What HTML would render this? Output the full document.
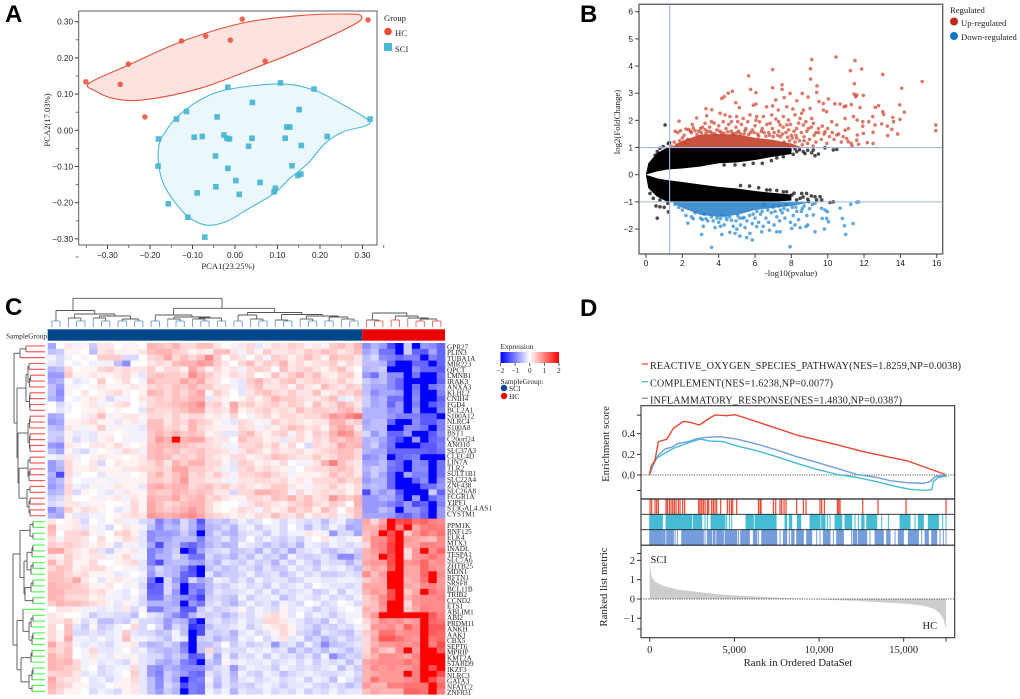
<!DOCTYPE html>
<html lang="en">
<head>
<meta charset="utf-8">
<title>PCA, volcano, heatmap and GSEA figure</title>
<style>
html,body{margin:0;padding:0;background:#fff;width:1020px;height:699px;overflow:hidden}
svg{display:block;filter:blur(0.35px)}
text{fill:#1f1f1f}
.serif{font-family:"Liberation Serif",serif}
.sans{font-family:"Liberation Sans",sans-serif}
.letter{font-family:"Liberation Sans",sans-serif;font-weight:700;font-size:24px;fill:#000}
</style>
</head>
<body>
<svg id="fig" xmlns="http://www.w3.org/2000/svg" width="1020" height="699" viewBox="0 0 1020 699">
<defs><linearGradient id="expr-grad" x1="0" x2="1" y1="0" y2="0"><stop offset="0" stop-color="#0000ff"/><stop offset="0.5" stop-color="#ffffff"/><stop offset="1" stop-color="#ff0000"/></linearGradient></defs>
<g id="panelA"><text class="letter" x="5" y="22">A</text></g>
<g id="panelB"><text class="letter" x="580" y="22">B</text></g>
<g id="panelC"><text class="letter" x="5" y="315">C</text></g>
<g id="panelD"><text class="letter" x="580" y="316">D</text></g>
</svg>
<script>
/* ---------- PCA data ---------- */
const pcaHC=[[-0.351,0.134],[-0.27,0.127],[-0.251,0.183],[-0.212,0.037],[-0.126,0.247],[-0.069,0.26],[-0.011,0.249],[0.017,0.307],[0.071,0.191],[0.313,0.305]];
const pcaSCI=[[-0.017,0.119],[0.107,0.131],[0.186,0.114],[0.041,0.077],[0.151,0.057],[-0.114,0.052],[-0.138,0.031],[-0.042,0.037],[0.318,0.031],[0.122,0.009],[0.129,0.009],[-0.18,-0.024],[-0.096,-0.019],[-0.077,-0.017],[-0.026,-0.013],[-0.019,-0.022],[-0.013,-0.024],[0.04,-0.022],[0.118,-0.022],[0.217,-0.017],[0.156,-0.042],[0.032,-0.044],[-0.046,-0.071],[0.134,-0.098],[-0.181,-0.099],[-0.017,-0.105],[0.155,-0.121],[0.148,-0.125],[0.002,-0.139],[0.059,-0.144],[-0.045,-0.156],[0.095,-0.16],[0.092,-0.17],[-0.089,-0.173],[0.01,-0.177],[-0.157,-0.203],[-0.111,-0.24],[-0.071,-0.295]];
const hullHC=[[-0.343,0.13],[-0.251,0.18],[-0.126,0.245],[0.017,0.296],[0.153,0.317],[0.271,0.321],[0.298,0.314],[0.278,0.291],[0.153,0.222],[0.071,0.183],[-0.082,0.116],[-0.216,0.084],[-0.286,0.088],[-0.329,0.109]];
const hullSCI=[[-0.016,0.113],[0.106,0.128],[0.186,0.111],[0.255,0.07],[0.314,0.028],[0.306,0.012],[0.255,-0.004],[0.212,-0.036],[0.172,-0.091],[0.129,-0.133],[0.092,-0.174],[0.027,-0.22],[-0.02,-0.252],[-0.067,-0.262],[-0.11,-0.239],[-0.145,-0.193],[-0.169,-0.146],[-0.18,-0.091],[-0.178,-0.036],[-0.161,0.001],[-0.137,0.036],[-0.082,0.084]];
const pcaMajorTicks=[-0.3,-0.2,-0.1,0,0.1,0.2,0.3];
const pcaMinorTicks=[-0.35,-0.25,-0.15,-0.05,0.05,0.15,0.25];
const pcaXMinorExtra=[-0.35,-0.25,-0.15,-0.05,0.05,0.15,0.25,0.35];

/* ---------- Volcano data ---------- */
const upPoints=[[10.46,4.33],[9.12,4.24],[11.5,4.2],[11.87,3.89],[11.25,3.83],[9.05,3.9],[6.97,3.87],[13.03,3.69],[5.65,3.64],[9.06,3.52],[11.47,3.35],[15.2,3.43],[9.41,3.27],[7.49,3.31],[5.76,3.14],[6.05,3.02],[7.49,3.14],[6.97,3.2],[14.07,3.18],[4.75,3.07],[4.53,3],[4.31,2.87],[4.17,2.81],[7.93,2.99],[8.6,2.99],[9.4,3.03],[8.92,2.86],[7.61,2.84],[7.14,2.75],[11.45,2.97],[11.6,2.93],[11.54,2.87],[11.96,2.92],[4.94,2.65],[5.91,2.56],[6.05,2.6],[3.3,2.43],[3.62,2.39],[5.14,2.47],[8.3,2.72],[9.52,2.69],[10.04,2.79],[9.76,2.62],[10.4,2.61],[10.68,2.6],[10.9,2.5],[11,2.53],[11.3,2.58],[11.78,2.47],[12.62,2.48],[12.8,2.54],[13.03,2.32],[13.08,2.22],[13.96,2.57],[14.22,2.3],[6.97,2.53],[6.64,2.5],[7.75,2.5],[8.08,2.42],[8.66,2.38],[9.03,2.44],[9.76,2.38],[8.57,2.26],[7.28,2.38],[6.92,2.2],[7.56,2.14],[7.84,2.01],[8.2,2.2],[8.48,2.07],[9.12,2.07],[9.94,2.32],[10.22,1.95],[10.5,1.83],[10.96,2.07],[11.42,2.14],[11.93,1.95],[12.48,2.14],[12.26,1.95],[11.62,2.01],[11.93,1.79],[12.6,1.83],[12.97,1.87],[13.58,2.11],[13.62,1.95],[13.98,2.04],[13.28,1.79],[13.53,1.67],[15.95,1.83],[15.95,1.62],[13.85,1.5],[13.3,1.44],[12.5,1.56],[11.96,1.52],[11.63,1.46],[11.6,1.27],[11.05,1.33],[11.14,1.21],[12.18,1.18],[12.5,1.15],[11.3,1.15],[11.34,1.05],[11.7,1.12],[10.96,1.64],[11.14,1.7],[10.5,1.46],[9.85,1.58],[9.7,1.79],[9.49,1.7],[9.21,1.89],[8.94,1.7],[8.66,1.83],[8.29,1.7],[7.75,1.83],[7.38,1.83],[6.83,1.89],[6.46,2.14],[6.09,2.14],[5.72,2.2],[5.35,2.07],[4.99,2.14],[4.62,2.14],[4.35,2.2],[4.08,2.26],[3.34,2.17],[2.79,2.09],[1.82,1.97],[3.25,1.89],[1.6,1.6],[1.75,1.55],[1.9,1.62],[2.1,1.45],[2.2,1.68],[2.35,1.66],[2.5,1.55],[2.6,1.72],[2.8,1.48],[2.9,1.6],[3,1.7],[3.1,1.75],[3.25,1.66],[3.4,1.6],[3.5,1.75],[3.65,1.52],[3.75,1.9],[3.9,1.65],[4,1.8],[4.15,1.55],[4.25,1.95],[4.4,1.7],[4.55,1.85],[4.7,1.6],[4.85,1.5],[4.95,1.75],[5.1,1.6],[5.25,1.85],[5.4,1.5],[5.5,1.7],[5.6,1.95],[5.75,1.55],[5.85,1.65],[6,1.8],[6.15,1.5],[6.25,1.95],[6.4,1.7],[6.5,1.55],[6.65,1.85],[6.8,1.45],[6.95,1.7],[7.05,1.55],[7.15,2.05],[7.3,1.6],[7.4,1.4],[7.55,1.75],[7.7,1.55],[7.85,1.65],[8,1.45],[8.15,1.6],[8.3,1.35],[8.4,1.9],[8.55,1.55],[8.7,1.4],[8.85,1.6],[9,1.3],[9.1,1.75],[9.25,1.45],[9.35,1.2],[9.5,1.55],[9.65,1.3],[9.8,1.5],[9.95,1.15],[10.1,1.4],[10.25,1.55],[10.35,1.3],[10.6,1.5],[10.75,1.2],[10.85,1.4],[8.9,1.15],[9.2,1.05],[8.6,1.1],[8.2,1.2],[7.9,1.25],[7.6,1.2],[1.4,1.05],[1.55,1.2],[1.7,1.1],[1.85,1.25],[2,1.35],[2.15,1.15],[2.3,1.3],[2.45,1.6],[2.7,1.62],[3.05,1.55],[3.3,1.52],[3.55,1.58],[3.8,1.5],[4.05,1.6],[4.3,1.52],[4.5,1.58],[4.75,1.5],[5,1.55],[5.2,1.5],[5.45,1.62],[5.65,1.48],[5.95,1.55],[6.2,1.42],[6.35,1.6],[6.6,1.42],[6.75,1.55],[7,1.4],[7.25,1.45],[7.5,1.5],[7.8,1.38],[8.05,1.35],[8.25,1.45],[8.45,1.25],[8.7,1.25],[2.55,1.85],[3.6,1.95],[4.7,1.95],[5.05,1.95],[6.05,2],[7.3,1.95],[7.95,1.85],[8.8,1.95],[9.35,1.55],[10,1.7]];
const downPoints=[[3.61,-2.67],[7.93,-2.65],[3.06,-2.2],[4.17,-2.2],[4.62,-2.12],[4.9,-2.16],[5.17,-2.26],[5.54,-2.31],[5.85,-2.4],[5.72,-2.16],[10.99,-2.2],[9.3,-2.1],[9.82,-2],[10.92,-1.88],[11.4,-1.8],[10.81,-1.61],[10.68,-1.23],[11.27,-1.09],[11.6,-1.01],[11.7,-1],[9.7,-1.61],[9.94,-1.61],[9.67,-1.24],[9.85,-1.3],[9.98,-1.36],[10.04,-1.73],[9.21,-1.48],[8.8,-1.91],[8.48,-1.95],[8.02,-1.98],[7.19,-2.1],[7.38,-2.1],[6.79,-2.04],[6.37,-2.1],[6.09,-1.91],[1.6,-1.1],[1.8,-1.2],[2,-1.3],[2.3,-1.78],[2.2,-1.5],[2.5,-1.55],[2.7,-1.4],[3,-1.6],[3.1,-1.65],[3.15,-1.9],[3.2,-1.45],[3.4,-1.7],[3.6,-1.55],[3.8,-1.95],[3.9,-1.6],[4,-1.75],[4.2,-1.5],[4.3,-1.85],[4.45,-1.65],[4.6,-1.55],[4.8,-1.9],[4.95,-1.7],[5.05,-1.5],[5.2,-1.85],[5.3,-1.6],[5.45,-1.95],[5.55,-1.7],[5.7,-1.5],[5.85,-1.8],[6,-1.6],[6.2,-1.75],[6.3,-1.45],[6.45,-1.9],[6.6,-1.6],[6.75,-1.75],[6.9,-1.4],[7.05,-1.85],[7.2,-1.55],[7.35,-1.7],[7.5,-1.4],[7.65,-1.6],[7.8,-1.3],[7.95,-1.75],[8.1,-1.5],[8.25,-1.2],[8.4,-1.65],[8.55,-1.35],[8.7,-1.15],[8.85,-1.5],[9,-1.25],[9.15,-1.1],[8.2,-1.85],[8.9,-1.85],[6.5,-1.1],[7,-1.2],[7.3,-1.15],[7.7,-1.1],[8.05,-1.2],[2.6,-1.62],[3.3,-1.62],[3.7,-1.7],[4.1,-1.62],[4.4,-1.55],[4.7,-1.68],[5.15,-1.6],[5.4,-1.58],[5.9,-1.45],[6.1,-1.35],[6.4,-1.35],[6.7,-1.3],[7.1,-1.35],[7.4,-1.3],[7.6,-1.25],[8.3,-1.35],[8.6,-1.25],[9.3,-1.05],[5,-2],[4.1,-1.9]];
const nsPoints=[[1.05,1.83],[0.95,1.03],[1.23,1.15],[1.3,1.18],[0.77,0.97],[0.62,0.85],[0.5,0.72],[0.22,0.35],[0.62,-1.6],[1.23,-1.37],[1,-1.2],[0.77,-1.18],[0.55,-1.15],[1.2,-1.05],[0.22,-0.69],[0.4,-0.87],[0.77,-0.93],[7.93,0.91],[8.3,0.85],[8.66,0.85],[9.21,0.91],[9.85,0.99],[10.31,0.91],[10.5,0.93],[9.49,0.76],[9.12,0.81],[7.56,0.66],[7.2,0.62],[6.9,0.52],[8.1,0.75],[8.9,0.9],[9.3,0.7],[7.74,-0.63],[8.02,-0.75],[8.57,-0.69],[8.84,-0.69],[9.3,-0.81],[9.58,-0.81],[9.67,-0.93],[10.13,-1.02],[10.31,-1],[9.39,-0.93],[8.48,-0.87],[6.83,-0.56],[7.56,-0.63],[6.64,-0.56],[8.29,-0.93],[8.9,-0.9],[9.1,-0.78],[8.2,0.95],[8.45,0.92],[8.75,0.78],[6.4,0.42],[5.9,0.42],[5.4,0.36],[4.9,0.36],[4.3,0.36],[6.2,-0.48],[5.7,-0.42],[5.2,-0.4],[7.2,-0.58],[8.15,-0.68],[8.65,-0.82],[8.95,-0.99]];
const nsX=[0,0.13,0.59,1.17,1.4,2,3,4,5,6,7,8];
const nsUpperOuter=[0.03,0.42,0.79,1,1,1,1,1,1,1,1,0.98];
const nsUpperInner=[0,0.03,0.12,0.19,0.2,0.23,0.3,0.42,0.45,0.54,0.66,0.76];
const nsLowerInner=[-0.01,-0.03,-0.13,-0.2,-0.22,-0.27,-0.36,-0.45,-0.51,-0.6,-0.67,-0.73];
const nsLowerOuter=[-0.04,-0.5,-0.8,-1,-1,-1,-1,-1,-1,-1,-1,-0.95];
const upCoreX=[1.5,2,3,4,5,6,7,8,8.5];
const upCoreTop=[1.05,1.25,1.48,1.5,1.48,1.36,1.28,1.15,1.03];
const downCoreX=[1.5,2,3,4,5,6,7,8,9];
const downCoreBottom=[-1.05,-1.22,-1.48,-1.55,-1.48,-1.3,-1.22,-1.15,-1.03];
const volcXTicks=[0,2,4,6,8,10,12,14,16];
const volcYTicks=[-2,-1,0,1,2,3,4,5,6];
const volcCutP=1.3;
const volcCutFC=[1,-1];

/* ---------- Heatmap data: expression z-score x10 ---------- */
const geneLabelsTop=["GPR27","PLIN3","TUBA1A","MIR223","QPCT","LMNB1","IRAK3","ANXA3","KLHL2","CNIH4","FGD4","BCL2A1","S100A12","NLRC4","S100A8","BST1","C20orf24","ANO10","SLC37A3","CLEC4D","LIN7A","TLR2","SULT1B1","SLC22A4","ZNF438","SLC26A8","FCGR1A","YIPF1","ST3GAL4.AS1","CYSTM1"];
const geneLabelsBottom=["PPM1K","RNF125","ELK4","MTX3","INADL","TESPA1","SLC7A6","ZHTB25","MDN1","RFTN1","SRSF8","BCL11B","TRIB2","CCND2","ETS1","ABLIM1","ABI2","PRDM11","ANKH","AAK1","CBX5","SEPT6","MPRIP","KMT2A","STARD9","IKZF3","NLRC3","GATA3","NFATC2","ZNF831"];
const groupSCICount=38;
const groupHCCount=10;
const heatValues=[
[-7,0,2,-1,1,-4,2,2,0,1,1,0,6,5,4,6,3,3,5,5,2,0,-1,2,3,-2,1,3,2,4,3,1,2,1,4,5,3,6,-9,-6,-8,-14,-20,-4,-20,-8,-9,-12],
[-5,-4,1,1,0,-5,2,3,1,1,1,2,5,6,6,4,3,1,2,1,5,5,2,-1,3,1,4,2,2,3,2,4,3,5,4,2,3,5,-7,-5,-11,-11,-20,-4,-12,-13,-7,-12],
[-1,-3,-1,0,1,0,4,4,4,-3,-3,0,3,4,7,3,5,3,5,9,4,0,3,2,0,3,-1,4,3,1,3,5,3,1,5,4,4,2,-5,-3,-9,-10,-12,-10,-10,-20,-10,-12],
[-2,-3,0,-1,0,-1,-1,-1,-5,-9,0,0,2,3,2,5,6,6,8,7,4,2,0,3,5,2,4,3,6,2,3,1,2,3,4,1,3,2,-5,-5,-6,-12,-20,-20,-12,-12,-20,-12],
[-6,-5,3,0,1,1,3,4,2,3,2,2,4,1,3,3,1,7,4,1,3,1,2,-1,3,4,3,0,5,2,3,4,2,1,3,5,2,0,-6,-5,-4,-20,-20,-20,-9,-12,-12,-13],
[-8,-8,4,1,1,2,1,1,2,3,1,-2,4,5,4,4,3,9,6,4,2,1,3,2,3,0,1,5,2,4,6,3,5,2,1,3,4,1,-8,-11,-5,-9,-9,-20,-11,-20,-20,-11],
[-7,-6,0,-2,-1,0,4,0,1,3,0,-1,6,4,4,4,7,5,7,3,2,0,-1,-2,4,6,3,2,4,5,2,3,4,3,2,4,2,1,-4,-6,-5,-9,-12,-20,-20,-20,-20,-12],
[-5,-8,1,-1,0,1,2,1,1,1,2,1,3,4,3,5,4,6,4,4,2,2,-1,-2,3,5,2,2,3,1,4,2,1,5,3,2,4,3,-5,-7,-7,-9,-12,-20,-11,-20,-11,-9],
[-5,-9,1,0,2,0,1,2,3,1,0,1,6,5,3,5,3,5,7,1,4,2,0,-2,2,4,5,3,2,4,2,2,5,1,2,4,3,5,-5,-9,-7,-7,-8,-20,-10,-20,-20,-10],
[-6,-8,0,-1,1,2,1,-3,-1,-1,0,2,3,4,3,5,4,6,6,-2,2,1,0,1,3,1,3,6,4,4,3,2,2,3,5,-2,-1,3,-4,-7,-6,-11,-11,-20,-9,-20,-20,-12],
[0,-3,-1,0,1,2,-1,1,2,3,0,1,3,4,4,5,6,7,9,3,4,1,7,3,4,2,3,4,2,4,3,1,5,2,3,6,4,2,-4,-7,-6,-12,-8,-20,-10,-20,-13,-11],
[0,-2,-1,0,1,1,2,0,1,0,0,-2,4,3,3,4,5,7,7,2,3,2,6,1,2,3,4,2,3,2,5,3,4,4,3,5,6,3,-6,-6,-6,-9,-8,-20,-8,-20,-20,-10],
[-7,-6,0,0,-1,2,5,-1,1,2,2,1,3,3,2,4,2,3,3,1,2,1,3,0,-1,2,3,1,3,3,2,3,3,5,8,7,9,11,-6,-6,-6,-8,-10,-10,-10,-13,-13,-20],
[-8,-7,1,1,2,3,1,1,-2,1,2,-1,5,5,2,4,3,6,4,3,1,-1,-2,3,2,1,-1,4,2,3,2,1,2,2,6,6,3,4,-7,-5,-5,-12,-20,-20,-9,-13,-13,-10],
[-5,-6,2,1,-1,1,4,-1,1,-1,-1,-2,5,5,3,4,2,6,3,2,1,1,1,3,2,-1,2,1,3,5,4,2,3,1,5,7,6,2,-6,-5,-5,-20,-20,-9,-9,-11,-20,-10],
[-4,-4,1,-2,-1,-2,1,1,0,1,-1,-1,4,6,4,6,4,5,4,1,2,-2,-2,4,5,2,1,3,4,-1,3,1,4,3,6,9,8,4,-3,-8,-5,-12,-12,-8,-20,-20,-13,-9],
[-4,-5,1,-3,-1,-2,1,2,0,-1,-1,-1,4,8,6,20,6,7,7,3,2,2,0,5,3,3,1,2,-2,2,3,1,3,2,5,4,6,5,-6,-5,-7,-11,-14,-20,-8,-20,-12,-11],
[-8,-9,2,1,0,2,2,1,3,1,0,1,5,6,5,6,5,4,3,3,2,-1,-1,3,3,4,2,4,1,3,0,-3,3,2,3,7,5,6,-6,-4,-8,-11,-20,-20,-20,-13,-13,-10],
[-5,-7,1,-2,-3,-1,0,1,-1,3,2,-1,5,6,4,5,3,4,5,3,3,2,-1,2,4,3,1,3,2,2,3,1,2,3,4,5,5,3,-6,-7,-7,-12,-12,-12,-12,-12,-13,-11],
[-1,-2,2,-1,0,1,2,1,1,0,1,2,5,6,5,3,4,3,5,3,2,1,3,3,1,2,3,5,4,3,2,2,4,2,3,5,5,3,-9,-8,-6,-20,-12,-11,-10,-20,-20,-20],
[-8,-5,3,1,0,2,-3,0,2,1,1,2,3,5,2,6,4,6,6,3,3,1,-2,4,3,1,2,1,3,0,-1,-1,2,6,10,5,3,2,-7,-7,-5,-10,-12,-20,-9,-10,-20,-11],
[-8,-6,3,1,1,2,1,1,1,2,2,3,3,4,3,7,7,4,4,3,2,-1,-2,3,4,2,3,2,1,-1,0,2,3,3,4,5,4,2,-6,-4,-5,-11,-12,-20,-9,-9,-20,-11],
[-6,-14,3,-1,0,0,-2,1,1,-1,0,1,4,6,3,5,7,3,4,2,4,2,-1,3,3,4,5,3,2,-1,1,1,1,2,5,3,4,2,-7,-4,-7,-12,-20,-7,-10,-10,-20,-11],
[-7,-5,2,0,-1,-1,1,-1,-1,1,1,1,4,4,3,5,8,3,3,2,2,-1,-1,2,2,3,3,2,3,1,2,1,3,3,3,5,3,4,-8,-6,-6,-12,-20,-20,-12,-9,-20,-9],
[-8,-6,3,-1,-2,1,-1,1,2,1,1,-2,6,7,5,6,6,3,4,5,3,4,2,3,2,1,2,4,4,2,1,-1,2,2,4,2,1,3,-6,-5,-6,-12,-20,-20,-20,-12,-11,-8],
[-6,-5,3,-3,1,0,-1,-2,-1,2,1,1,5,4,4,6,5,4,5,4,2,2,-3,3,3,6,6,5,4,-1,3,1,2,3,2,3,1,3,-14,-6,-8,-6,-13,-20,-20,-20,-4,-12],
[-4,-3,2,0,0,1,-1,1,2,-1,2,1,6,5,5,7,4,5,6,3,4,2,1,1,3,3,2,5,4,6,3,5,2,3,8,5,4,6,-8,-8,-6,-7,-11,-20,-8,-20,-12,-9],
[-3,-2,2,2,-1,1,1,0,0,1,3,1,7,5,3,4,5,6,6,3,1,0,0,-1,2,4,3,2,1,3,4,5,3,2,4,3,0,6,-8,-8,-8,-10,-12,-8,-14,-12,-20,-10],
[-9,-6,4,1,3,2,1,0,-2,-1,3,1,7,5,4,5,6,8,6,3,1,0,1,3,2,-1,3,1,2,5,3,4,1,5,3,0,3,5,-8,-8,-5,-7,-20,-8,-8,-11,-20,-8],
[-6,-7,1,-2,-2,-1,-1,0,1,2,3,2,8,7,6,7,8,9,7,4,3,2,1,2,1,3,2,5,3,2,4,1,3,2,3,-1,2,5,-7,-7,-7,-8,-11,-12,-9,-12,-20,-8],
[2,0,1,2,-3,0,-1,0,2,-1,-1,-3,-4,-10,-6,-8,-3,-6,-13,-5,-4,-5,-3,-1,-3,-2,0,-1,-3,-1,-2,-3,-2,-5,-2,-1,-5,-6,7,3,7,20,14,15,11,12,10,9],
[6,1,1,2,-2,1,-1,-3,0,2,1,-1,-5,-9,-5,-6,-3,-6,-11,-6,-5,-3,-6,-2,-1,-4,-2,-1,-3,0,-2,-5,-2,-4,-1,-3,-7,-6,6,6,9,20,10,20,7,10,11,10],
[5,0,3,3,4,1,-1,0,3,4,1,-2,-9,-8,-8,-7,-4,-7,-20,-6,-3,-5,-6,-3,-2,-2,-4,-1,-3,-1,-1,2,1,-1,-8,-3,-3,-7,5,7,20,14,20,4,8,11,9,11],
[3,-1,3,3,2,0,3,0,1,3,2,-2,-9,-7,-7,-5,-5,-5,-10,-5,-4,-2,-5,-3,0,-3,-1,-3,-4,-2,-4,-1,0,2,-1,-2,-1,1,5,9,9,14,20,8,7,6,5,9],
[4,3,4,3,2,1,2,1,-3,-1,-1,-2,-7,-14,-6,-5,-10,-12,-9,-6,-4,-6,-5,-1,-2,-3,-5,-3,-5,-3,-6,-1,-2,-3,-1,-2,-3,-2,3,9,10,15,20,7,7,10,10,9],
[7,7,3,2,1,3,-2,-4,-1,1,2,-1,-10,-8,-6,-4,-20,-14,-7,-4,-3,-2,-5,-4,-3,-6,-2,-5,-3,-7,-3,-2,-1,-4,-5,-3,-2,-4,6,8,10,15,20,3,8,20,9,12],
[2,1,4,2,1,2,2,-1,1,3,-1,-1,-10,-6,-6,-3,-6,-11,-11,-3,-5,-4,-6,-3,-5,-2,-4,-3,-6,-1,-3,-4,-3,-2,-4,-9,-9,-5,6,7,20,14,20,3,8,9,11,9],
[6,2,4,1,1,3,0,0,1,2,3,-2,-10,-14,-6,-5,-5,-7,-8,-4,-6,-2,-3,-4,-2,-4,-3,-6,-2,-4,-1,-3,-5,-2,-3,-3,-6,-3,7,8,8,14,20,8,9,12,8,9],
[3,5,4,1,2,3,3,1,0,1,-1,-2,-7,-3,-5,-6,-9,-14,-20,-5,-3,-5,-4,-2,-3,-5,-2,-4,-4,-1,-3,-2,-4,-1,-2,-1,-3,-5,5,7,6,13,20,7,7,12,9,8],
[5,5,3,2,3,1,1,1,-2,-1,0,-1,-8,-4,-5,-6,-12,-13,-20,-2,-6,-4,-4,-3,-1,-4,-3,-2,-5,-3,-1,-3,-2,-4,-4,-3,-2,-3,9,5,8,20,20,7,7,12,20,9],
[5,5,4,7,2,0,-2,1,2,1,-1,-2,-11,-20,-3,-8,-12,-3,-7,-5,-1,-2,-4,-2,-4,-1,-3,-2,-2,-4,-3,-1,-1,-2,-2,-1,-1,-2,4,6,7,20,20,6,7,11,20,8],
[6,5,5,4,3,1,1,2,0,-1,1,-3,-13,-12,-3,-6,-20,-10,-9,-5,-3,-4,-2,-1,-3,-2,-4,-1,-3,-2,-1,-3,0,-1,-2,-2,-3,-2,7,7,7,20,20,7,6,9,10,8],
[6,6,4,4,4,2,3,1,-1,-2,0,-2,-12,-12,-3,-8,-20,-9,-12,-5,-2,-3,-3,-2,-1,-3,-1,-4,-2,-3,-2,-1,-4,-3,-1,-4,-1,-2,6,8,7,14,20,4,7,20,11,9],
[6,5,3,3,3,1,2,-1,-1,-2,1,-3,-11,-11,-5,-7,-9,-11,-15,-4,-3,-4,-5,-1,-4,-2,-2,-1,-5,-3,-1,-2,-3,-1,-3,-2,-3,-1,4,6,9,14,20,6,8,9,9,10],
[4,6,5,5,4,3,2,1,-2,1,-1,-3,-6,-6,-6,-7,-20,-8,-11,-3,-2,-4,-6,-3,-1,-3,-2,-4,-1,-2,-3,0,-1,-3,-2,0,-1,-3,4,5,9,20,20,3,8,9,9,9],
[0,2,2,1,-1,-1,-2,-1,-2,2,-3,1,-10,-10,-6,-5,-13,-13,-4,-2,-4,-3,-2,1,-3,-1,-2,-3,1,-2,-1,-2,-4,-2,-3,-1,0,-1,6,5,8,20,20,4,7,10,9,9],
[2,1,0,0,-1,-4,-2,-2,-3,-3,-5,0,-2,-3,-6,-9,-12,-6,-3,-4,-3,-6,-4,-2,-3,-1,2,3,1,-2,0,-3,-1,-2,-4,-2,-1,-1,5,8,20,20,20,20,20,20,13,10],
[2,2,4,1,-3,-1,-5,-5,-3,-4,-1,-3,-3,-4,-8,-5,-6,-13,-20,-3,-2,-4,-3,-1,-3,-2,3,3,2,-1,-2,-4,-3,-5,-1,-3,-1,0,3,6,9,8,9,7,8,20,12,11],
[3,0,5,-2,-4,1,-4,-3,-1,0,3,-3,0,-3,-8,-3,-5,-16,-14,-5,-3,-3,-2,-1,-4,-2,1,2,3,1,-2,-3,-5,-3,-4,-2,-3,-1,2,8,8,9,7,12,9,20,13,13],
[3,1,5,-3,-3,-2,-3,-2,-1,4,-2,-3,-3,-5,-4,-1,-5,-20,-14,-3,-4,-3,-6,-2,-1,-3,-2,1,3,1,-3,-4,-6,-2,-3,-4,-5,-2,4,6,11,11,8,9,9,20,13,12],
[3,1,7,-1,-1,-2,1,-2,-1,5,-1,-1,-2,-3,-5,-1,-2,-20,-4,-3,-6,-4,-5,-1,-2,0,-3,-1,2,-2,-1,-5,-3,-6,-4,-2,-4,-3,3,7,13,13,11,9,8,20,11,12],
[7,3,4,-1,-2,-1,-2,-3,-1,1,2,-4,-6,-5,-3,-5,-10,-20,-5,-5,-3,0,-4,-2,-4,-3,-2,-8,-3,-2,-5,-1,-4,-9,-5,-4,-3,-2,3,6,8,8,9,8,9,20,10,14],
[4,3,5,0,-1,3,-2,-2,-1,0,-2,-1,-4,-5,-6,-5,-9,-20,-5,3,-4,-2,-3,-3,-1,-2,-1,-3,-2,-6,-3,-5,-3,-5,-2,-3,-5,-3,3,8,5,4,9,20,8,20,20,13],
[6,4,5,0,-1,2,-1,-2,1,-1,1,-2,-3,-3,-6,-4,-6,-13,-12,-2,-7,-1,-5,-2,-3,-1,-4,-1,-3,-2,-4,-2,-5,-1,-9,-5,-3,-4,4,6,9,9,8,7,10,20,20,20],
[6,5,6,3,-1,1,-2,-1,-2,-3,1,-2,-3,-6,-7,-5,-10,-12,-20,-4,-6,1,-2,-1,-2,-2,-1,-3,-2,-1,-3,-1,-4,-2,-3,-2,-5,-2,7,8,9,9,9,11,9,20,20,20],
[6,5,4,3,-1,0,-3,-2,-1,-1,3,-2,-8,-9,-6,-7,-9,-9,-9,-5,-3,-2,-8,-3,-1,-2,-2,-4,-1,-2,-3,-2,-3,-2,-1,-5,-2,-4,6,9,8,9,8,8,10,20,14,20],
[3,4,4,2,-2,-1,-3,-2,-1,0,4,-2,-8,-10,-4,-6,-8,-11,-12,-2,-4,-2,-6,-1,-3,-4,-1,-2,-5,-3,-2,-1,-2,-3,-3,-2,-1,-3,6,7,8,8,8,20,10,20,20,14],
[7,3,2,2,0,-2,-1,-3,-1,1,3,-2,-5,-9,-4,-7,-20,-11,-10,-1,-5,-2,-5,-2,-1,-3,-2,-1,-3,-2,-1,-4,-1,-2,-5,0,-2,-4,6,11,8,8,8,9,10,20,14,10],
[6,4,3,1,1,-2,-2,0,1,1,2,-2,-5,-9,-3,-5,-14,-10,-11,-2,-6,-2,-4,-3,-4,-2,-1,-2,-4,-2,-2,-1,-3,-4,-2,-3,-5,-3,8,6,6,10,10,11,11,11,20,12],
[5,3,1,1,0,-3,-1,-2,-3,1,2,-2,-5,-8,-4,-6,-20,-10,-11,-1,-3,-1,-6,-2,-3,-3,-1,-3,-2,-3,-1,-4,-2,-3,-1,-3,-2,-2,5,7,6,6,6,12,12,11,20,10]
];
const colTreeSCIa=[16.5,[6,0,0],[13,[9,0,[6,0,0]],[11,[9,0,[6,0,0]],[8,[6,0,0],[6,0,0]]]]];
const colTreeSCIb=[18.7,[12,[6,0,0],[10,[8,0,[6,0,0]],[9,[8,0,[6,0,0]],[6,0,0]]]],[14.5,[12,[6,0,0],[8,0,[6,0,0]]],[12.5,[7,0,[6,0,0]],[11,[8,0,[6,0,0]],[10,[6,0,0],[8,0,[6,0,0]]]]]]];
const colTreeHC=[14,[7,0,[6,0,0]],[11,[7,0,0],[9,0,[8,[6,0,0],[6,0,0]]]]];
const rowTreeTop=[31,[25,[19,0,0],0],[28,[19,[17,[16,0,0],[15.5,[14.5,0,0],0]],[15.5,[15,0,0],[15,0,0]]],[27,[17,[15.5,[15,0,0],0],[15.5,[15,0,0],[15,0,0]]],[26,[17,[15,0,0],[16,[15,0,0],0]],[18,[15,0,0],[16,[15,0,0],[15,0,0]]]]]]];
const rowTreeBottom=[32,[25,[15,[12,0,0],[12,0,0]],[21,[18,[13,[12,0,0],0],[14,[12,0,0],0]],[20,[14,[12,0,0],0],[12,0,0]]]],[28,[22,0,[16,[14,[12,0,0],0],[13,[12,0,0],0]]],[24,[14,[13,0,0],0],[16,[13,[12,0,0],0],[13,0,0]]]]];
const exprTicks=[-2,-1,0,1,2];

/* ---------- GSEA data ---------- */
const rosRank=[0,79,315,512,1004,1398,1988,2382,2933,3464,3858,4547,5039,5728,6319,7500,8681,9862,11142,12618,14193,15177,16161,17441];
const rosES=[0.006,0.081,0.145,0.323,0.345,0.452,0.519,0.51,0.484,0.542,0.581,0.574,0.584,0.548,0.516,0.452,0.387,0.339,0.29,0.226,0.171,0.139,0.081,0.006];
const compRank=[0,217,413,768,1398,2185,2972,3563,4350,5138,6319,7500,8681,9862,11043,12225,13406,14587,15374,16161,16653,16752,17047,17539];
const compES=[0.006,0.097,0.161,0.2,0.258,0.306,0.348,0.329,0.323,0.281,0.235,0.177,0.113,0.055,0.006,-0.023,-0.065,-0.113,-0.139,-0.148,-0.142,-0.065,-0.023,-0.01];
const inflRank=[0,217,512,906,1299,1693,2283,2776,3366,4154,5138,6319,7500,8681,9862,11043,12225,13406,14193,15177,16161,16555,16850,17539];
const inflES=[0.006,0.113,0.194,0.252,0.268,0.306,0.323,0.352,0.365,0.371,0.348,0.3,0.242,0.177,0.123,0.065,0.006,-0.023,-0.055,-0.074,-0.081,-0.065,-0.016,0];
const rosHits=[20,118,315,413,512,965,1043,1161,1260,1358,1457,1555,1693,1791,1949,2067,2894,2972,3071,3169,3268,3405,3484,3661,3760,3858,3957,4193,4587,4705,4823,4902,5138,6417,6516,6575,7303,7441,7697,7795,7933,8051,8681,9075,9232,10059,10157,10315,11083,11161,11240,12579,13484,15138,17500];
const compHitRuns=[[0,315],[354,748],[965,2480],[2579,3071],[3268,3268],[3405,3405],[3622,4449],[4547,4547],[4705,4705],[4843,4843],[5689,6122],[6220,6516],[6555,7461],[7992,8091],[8248,8386],[8720,8917],[9469,10059],[10157,10354],[10492,10492],[10650,10650],[10945,11339],[11535,11929],[12126,12126],[12323,12323],[12520,12658],[12815,13406],[13701,13701],[14095,14095],[14784,15374],[15669,15669],[15866,16161],[16457,17047],[17303,17303],[17500,17500]];
const inflHitRuns=[[0,709],[768,906],[1004,1398],[1496,1496],[1634,1634],[1890,3169],[3268,3268],[3405,3661],[3760,3858],[3957,4350],[4449,5138],[5236,5236],[5374,5886],[6122,6319],[6417,6417],[6614,7500],[7697,7697],[7894,8091],[8248,8248],[8386,8523],[8681,9075],[9272,9567],[9862,9862],[10059,10059],[10256,10650],[10846,10846],[11043,11437],[11929,11929],[12027,12225],[12323,12815],[13012,13012],[13307,13799],[13996,14193],[14488,14488],[14685,14980],[15275,15866],[16063,16063],[16260,16457],[16653,16949],[17146,17146],[17342,17342],[17500,17500]];
const metricRank=[0,39,118,315,807,1594,2776,4350,6319,7500,9272,12225,14193,15177,16161,16752,17146,17342,17500];
const metricValue=[2.35,1.6,1.15,0.9,0.68,0.5,0.37,0.22,0.12,0.07,0,-0.1,-0.2,-0.25,-0.35,-0.5,-0.75,-1.05,-1.55];
const rankTicks=[0,5000,10000,15000];
const rankTickLabels=["0","5,000","10,000","15,000"];
const rankEndTick=[17500];
const esTicks=[0,0.2,0.4];
const esTickLabels=["0.0","0.2","0.4"];
const esExtraTicks=[0.58,-0.15];
const metricTicks=[-1,0,1,2];
const metricExtraTicks=[2.35,-1.55];

/* ---------- helpers ---------- */
const NS='http://www.w3.org/2000/svg';
function mk(parent,tag,attrs,name,text){
  const el=document.createElementNS(NS,tag);
  for(const k in attrs){el.setAttribute(k,attrs[k]);}
  
  
  if(text!==undefined){el.textContent=text;}
  parent.appendChild(el);
  return el;
}
function line(p,x1,y1,x2,y2,stroke,w,name,extra){
  return mk(p,'line',Object.assign({x1:x1,y1:y1,x2:x2,y2:y2,stroke:stroke,'stroke-width':w},extra||{}),name);
}
function text(p,x,y,str,size,cls,name,extra){
  return mk(p,'text',Object.assign({x:x,y:y,'font-size':size,class:cls},extra||{}),name,str);
}
function closedSpline(pts){
  const n=pts.length;let d='M'+pts[0][0]+' '+pts[0][1];
  for(let i=0;i<n;i++){
    const p0=pts[(i-1+n)%n],p1=pts[i],p2=pts[(i+1)%n],p3=pts[(i+2)%n];
    const c1=[p1[0]+(p2[0]-p0[0])/6,p1[1]+(p2[1]-p0[1])/6];
    const c2=[p2[0]-(p3[0]-p1[0])/6,p2[1]-(p3[1]-p1[1])/6];
    d+=' C'+c1[0]+' '+c1[1]+' '+c2[0]+' '+c2[1]+' '+p2[0]+' '+p2[1];
  }
  return d+'Z';
}
function rowsPath(xs,ys,fx,fy){return xs.map((x,i)=>fx(x)+','+fy(ys[i])).join(' ');}

/* ---------- Panel A ---------- */
(function(){
  const g=document.getElementById('panelA');
  const X=v=>235+v*425, Y=v=>130.3-v*362;
  const L=78.7,R=377,T=11,B=245;
  mk(g,'rect',{x:L,y:T,width:R-L,height:B-T,fill:'none',stroke:'#5f5f5f','stroke-width':1},'pca-plot-frame');
  const fmt=v=>(v<0?'\u2212':'')+Math.abs(v).toFixed(2);
  pcaMajorTicks.forEach(v=>{
    line(g,X(v),B,X(v),B+4,'#444',1,'pca-x-tick');
    text(g,X(v),258,fmt(v),8.2,'sans','pca-x-tick-label',{'text-anchor':'middle'});
    line(g,L-4,Y(v),L,Y(v),'#444',1,'pca-y-tick');
    text(g,73,Y(v)+3,fmt(v),8.2,'sans','pca-y-tick-label',{'text-anchor':'end'});
  });
  pcaXMinorExtra.forEach(v=>{line(g,X(v),B,X(v),B+3,'#555',0.8,'pca-x-minor-tick');});
  pcaMinorTicks.forEach(v=>{line(g,L-3,Y(v),L,Y(v),'#555',0.8,'pca-y-minor-tick');});
  text(g,228,269,'PCA1(23.25%)',8.6,'serif','pca-x-axis-title',{'text-anchor':'middle'});
  text(g,0,0,'PCA2(17.03%)',8.6,'serif','pca-y-axis-title',{'text-anchor':'middle',transform:'translate(50,120) rotate(-90)'});
  mk(g,'path',{d:closedSpline(hullHC.map(p=>[X(p[0]),Y(p[1])])),fill:'#ea4f36','fill-opacity':0.16,stroke:'#e8503a','stroke-width':1.1},'hc-confidence-region');
  mk(g,'path',{d:closedSpline(hullSCI.map(p=>[X(p[0]),Y(p[1])])),fill:'#4bb9d5','fill-opacity':0.11,stroke:'#4bb9d5','stroke-width':1.1},'sci-confidence-region');
  pcaHC.forEach(p=>{mk(g,'circle',{cx:X(p[0]),cy:Y(p[1]),r:2.8,fill:'#ea4f36','fill-opacity':0.85},'hc-point');});
  pcaSCI.forEach(p=>{mk(g,'rect',{x:X(p[0])-2.8,y:Y(p[1])-2.8,width:5.6,height:5.6,fill:'#45b5d2','fill-opacity':0.92},'sci-point');});
  text(g,384,21,'Group',8.6,'serif','pca-legend-title');
  mk(g,'circle',{cx:388,cy:31.5,r:3.8,fill:'#ea4f36'},'hc-legend-marker');
  text(g,395,36,'HC',8.6,'serif','hc-legend-label');
  mk(g,'rect',{x:384,y:43,width:8,height:8,fill:'#4bb9d5'},'sci-legend-marker');
  text(g,395,52,'SCI',8.6,'serif','sci-legend-label');
})();

/* ---------- Panel B ---------- */
(function(){
  const g=document.getElementById('panelB');
  const X=v=>646+v*18.17, Y=v=>174.7-v*27.17;
  const L=639,R=942.7,T=4.3,B=254;
  mk(g,'polygon',{points:upCoreX.map(x=>X(x)+','+Y(1)).join(' ')+' '+upCoreX.slice().reverse().map((x,i)=>X(x)+','+Y(upCoreTop[upCoreX.length-1-i])).join(' '),fill:'#c0341d','fill-opacity':0.85},'up-regulated-dense-cloud');
  mk(g,'polygon',{points:downCoreX.map(x=>X(x)+','+Y(-1)).join(' ')+' '+downCoreX.slice().reverse().map((x,i)=>X(x)+','+Y(downCoreBottom[downCoreX.length-1-i])).join(' '),fill:'#1878c4','fill-opacity':0.82},'down-regulated-dense-cloud');
  upPoints.forEach(p=>{mk(g,'circle',{cx:X(p[0]),cy:Y(p[1]),r:1.8,fill:'#cc3a24','fill-opacity':0.68},'up-regulated-point');});
  downPoints.forEach(p=>{mk(g,'circle',{cx:X(p[0]),cy:Y(p[1]),r:1.8,fill:'#1a80cb','fill-opacity':0.68},'down-regulated-point');});
  nsPoints.forEach(p=>{mk(g,'circle',{cx:X(p[0]),cy:Y(p[1]),r:1.8,fill:'#1c1c1c','fill-opacity':0.8},'not-significant-point');});
  mk(g,'polygon',{points:rowsPath(nsX,nsUpperOuter,X,Y)+' '+nsX.slice().reverse().map((x,i)=>X(x)+','+Y(nsUpperInner[nsX.length-1-i])).join(' '),fill:'#000'},'not-significant-upper-band');
  mk(g,'polygon',{points:rowsPath(nsX,nsLowerOuter,X,Y)+' '+nsX.slice().reverse().map((x,i)=>X(x)+','+Y(nsLowerInner[nsX.length-1-i])).join(' '),fill:'#000'},'not-significant-lower-band');
  volcCutFC.forEach(v=>{line(g,L,Y(v),R,Y(v),'#9bb9e0',1.1,'fold-change-threshold-line');});
  line(g,X(volcCutP),T,X(volcCutP),B,'#9bb9e0',1.1,'pvalue-threshold-line');
  mk(g,'rect',{x:L,y:T,width:R-L,height:B-T,fill:'none',stroke:'#666','stroke-width':1.4},'volcano-plot-frame');
  volcXTicks.forEach(v=>{
    line(g,X(v),B,X(v),B+4,'#444',1,'volcano-x-tick');
    text(g,X(v),266,String(v),8.4,'sans','volcano-x-tick-label',{'text-anchor':'middle'});
  });
  volcYTicks.forEach(v=>{
    line(g,L-4,Y(v),L,Y(v),'#444',1,'volcano-y-tick');
    text(g,633,Y(v)+3,(v<0?'\u2212':'')+Math.abs(v),8.4,'sans','volcano-y-tick-label',{'text-anchor':'end'});
  });
  text(g,791,276,'-log10(pvalue)',8.8,'serif','volcano-x-axis-title',{'text-anchor':'middle'});
  text(g,0,0,'log2(FoldChange)',8.8,'serif','volcano-y-axis-title',{'text-anchor':'middle',transform:'translate(620,122) rotate(-90)'});
  text(g,950,13,'Regulated',8.6,'serif','volcano-legend-title');
  mk(g,'circle',{cx:954,cy:21.5,r:4,fill:'#c0281a'},'up-regulated-legend-marker');
  text(g,961,26,'Up-regulated',8.6,'serif','up-regulated-legend-label');
  mk(g,'circle',{cx:954,cy:36,r:4,fill:'#1274c4'},'down-regulated-legend-marker');
  text(g,961,40,'Down-regulated',8.6,'serif','down-regulated-legend-label');
})();

/* ---------- Panel C ---------- */
(function(){
  const g=document.getElementById('panelC');
  const X0=47.7,CW=8.277,Y0=343,RH=5.855;
  const cellColor=v=>{
    const t=Math.max(-1,Math.min(1,v/20));
    const c=Math.round(255*(1-Math.abs(t)));
    return t>=0?'rgb(255,'+c+','+c+')':'rgb('+c+','+c+',255)';
  };
  heatValues.forEach((row,r)=>{
    row.forEach((v,c)=>{
      mk(g,'rect',{x:X0+c*CW,y:Y0+r*RH,width:CW+0.3,height:RH+0.3,fill:cellColor(v)},'heatmap-cell');
    });
  });
  mk(g,'rect',{x:X0,y:329.3,width:groupSCICount*CW,height:11.4,fill:'#00468b'},'sci-annotation-bar');
  mk(g,'rect',{x:X0+groupSCICount*CW,y:329.3,width:groupHCCount*CW,height:11.4,fill:'#ee0000'},'hc-annotation-bar');
  text(g,6,338.5,'SampleGroup',7.4,'serif','annotation-row-label');
  geneLabelsTop.forEach((t,i)=>{text(g,447,349.3+i*5.76,t,7.2,'serif','gene-label');});
  geneLabelsBottom.forEach((t,i)=>{text(g,447,528+i*5.76,t,7.2,'serif','gene-label');});

  function colDendro(tree,startIdx,leafColor,base){
    let idx=startIdx;
    (function walk(n){
      if(n===0){const x=X0+(idx+0.5)*CW;idx++;return {x:x,h:0,leaf:true};}
      const a=walk(n[1]),b=walk(n[2]);
      const y=base-n[0];
      const both=a.leaf&&b.leaf;
      line(g,a.x,base-a.h,a.x,y,a.leaf?leafColor:'#555',0.9,'column-dendrogram-branch');
      line(g,b.x,base-b.h,b.x,y,b.leaf?leafColor:'#555',0.9,'column-dendrogram-branch');
      line(g,a.x,y,b.x,y,both?leafColor:'#555',0.9,'column-dendrogram-branch');
      return {x:(a.x+b.x)/2,h:n[0],leaf:false};
    })(tree);
    return idx;
  }
  let next=colDendro(colTreeSCIa,0,'#6f9fd0',327);
  next=colDendro(colTreeSCIb,next,'#6f9fd0',327);
  colDendro(colTreeHC,next,'#f06060',327);
  line(g,73,298.3,222,298.3,'#555',0.9,'column-dendrogram-root');
  line(g,73,298.3,73,310.5,'#555',0.9,'column-dendrogram-root');
  line(g,222,298.3,222,308.3,'#555',0.9,'column-dendrogram-root');

  function rowDendro(tree,startRow,leafColor,base){
    let idx=startRow;
    (function walk(n){
      if(n===0){const y=Y0+(idx+0.5)*RH;idx++;return {y:y,h:0,leaf:true};}
      const a=walk(n[1]),b=walk(n[2]);
      const x=base-n[0];
      line(g,base-a.h,a.y,x,a.y,a.leaf?leafColor:'#555',a.leaf?1.2:0.9,'row-dendrogram-branch');
      line(g,base-b.h,b.y,x,b.y,b.leaf?leafColor:'#555',b.leaf?1.2:0.9,'row-dendrogram-branch');
      line(g,x,a.y,x,b.y,'#555',0.9,'row-dendrogram-branch');
      return {y:(a.y+b.y)/2,h:n[0],leaf:false};
    })(tree);
  }
  rowDendro(rowTreeTop,0,'#ff5a5a',45);
  rowDendro(rowTreeBottom,geneLabelsTop.length,'#55ff55',45);

  text(g,500.5,349,'Expression',7.4,'serif','expression-legend-title');
  mk(g,'rect',{x:500.5,y:352,width:58.5,height:11,fill:'url(#expr-grad)'},'expression-colorbar');
  exprTicks.forEach(v=>{
    const x=500.5+(v+2)*14.62;
    line(g,x,363,x,366,'#333',0.8,'expression-colorbar-tick');
    text(g,x,373,(v<0?'\u2212':'')+Math.abs(v),7.2,'serif','expression-colorbar-label',{'text-anchor':'middle'});
  });
  text(g,500.5,384,'SampleGroup:',7.4,'serif','sample-group-legend-title');
  mk(g,'circle',{cx:504,cy:388,r:3.2,fill:'#00468b'},'sci-group-legend-marker');
  text(g,509,391,'SCI',7.4,'serif','sci-group-legend-label');
  mk(g,'circle',{cx:504,cy:396,r:3.2,fill:'#ee0000'},'hc-group-legend-marker');
  text(g,509,399,'HC',7.4,'serif','hc-group-legend-label');
})();

/* ---------- Panel D ---------- */
(function(){
  const g=document.getElementById('panelD');
  const X=r=>649.7+r*0.016934, ES=v=>475-v*103.3, M=v=>599-v*19.33;
  const L=641,R=954.7,T=405.7,B1=499,B2=514.3,B3=529.7,B4=545.2,B5=637.7;
  const RED='#e9472f',TEAL='#45bcd3',BLUE='#759cdb';
  const entries=[
    ['REACTIVE_OXYGEN_SPECIES_PATHWAY(NES=1.8259,NP=0.0038)',369,311,RED,'ros-legend'],
    ['COMPLEMENT(NES=1.6238,NP=0.0077)',386.7,183,TEAL,'complement-legend'],
    ['INFLAMMATORY_RESPONSE(NES=1.4830,NP=0.0387)',403.3,252,BLUE,'inflammatory-legend']
  ];
  entries.forEach(e=>{
    line(g,641.7,e[1]-5,648,e[1]-5,e[3],1.3,e[4]+'-line');
    text(g,650,e[1],e[0],10.2,'serif',e[4]+'-label',{textLength:e[2],lengthAdjust:'spacing'});
  });
  line(g,L,ES(0),R,ES(0),'#555',0.9,'es-zero-line',{'stroke-dasharray':'1.2 1.2'});
  [[compRank,compES,TEAL,'complement-es-curve'],[inflRank,inflES,BLUE,'inflammatory-es-curve'],[rosRank,rosES,RED,'ros-es-curve']].forEach(s=>{
    mk(g,'polyline',{points:s[0].map((r,i)=>X(r)+','+ES(s[1][i])).join(' '),fill:'none',stroke:s[2],'stroke-width':1.4,'stroke-linejoin':'round'},s[3]);
  });
  rosHits.forEach(r=>{line(g,X(r),B1,X(r),B2,RED,1.2,'ros-hit');});
  compHitRuns.forEach(h=>{mk(g,'rect',{x:X(h[0])-0.5,y:B2,width:X(h[1])-X(h[0])+1,height:B3-B2,fill:TEAL},'complement-hit');});
  inflHitRuns.forEach(h=>{mk(g,'rect',{x:X(h[0])-0.5,y:B3,width:X(h[1])-X(h[0])+1,height:B4-B3,fill:BLUE},'inflammatory-hit');});
  const area=metricRank.map((r,i)=>X(r)+','+M(metricValue[i])).join(' ');
  mk(g,'polygon',{points:X(0)+','+M(0)+' '+area+' '+X(17500)+','+M(0),fill:'#cdcdcd'},'ranked-metric-area');
  line(g,L,M(0),R,M(0),'#555',0.9,'metric-zero-line',{'stroke-dasharray':'1.2 1.2'});
  mk(g,'rect',{x:L,y:T,width:R-L,height:B5-T,fill:'none',stroke:'#333','stroke-width':1.1},'gsea-plot-frame');
  [B1,B2,B3,B4].forEach(y=>{line(g,L,y,R,y,'#222',y===B1||y===B4?1.2:0.9,'gsea-panel-divider');});
  esTicks.forEach((v,i)=>{
    line(g,L-4,ES(v),L,ES(v),'#333',1,'es-y-tick');
    text(g,635,ES(v)+3.5,esTickLabels[i],10.5,'serif','es-y-tick-label',{'text-anchor':'end'});
  });
  esExtraTicks.forEach(v=>{line(g,L-4,ES(v),L,ES(v),'#333',1,'es-y-minor-tick');});
  metricTicks.forEach(v=>{
    line(g,L-4,M(v),L,M(v),'#333',1,'metric-y-tick');
    text(g,635,M(v)+3.5,(v<0?'\u2212':'')+Math.abs(v),10.5,'serif','metric-y-tick-label',{'text-anchor':'end'});
  });
  metricExtraTicks.forEach(v=>{line(g,L-4,M(v),L,M(v),'#333',1,'metric-y-minor-tick');});
  rankTicks.forEach((r,i)=>{
    line(g,X(r),B5,X(r),B5+4,'#333',1,'rank-x-tick');
    text(g,X(r),653,rankTickLabels[i],10.5,'serif','rank-x-tick-label',{'text-anchor':'middle'});
  });
  rankEndTick.forEach(r=>{line(g,X(r),B5,X(r),B5+4,'#333',1,'rank-x-end-tick');});
  text(g,798,666,'Rank in Ordered DataSet',10.8,'serif','rank-x-axis-title',{'text-anchor':'middle'});
  text(g,0,0,'Enrichment score',10.8,'serif','es-y-axis-title',{'text-anchor':'middle',transform:'translate(609,444) rotate(-90)'});
  text(g,0,0,'Ranked list metric',10.8,'serif','metric-y-axis-title',{'text-anchor':'middle',transform:'translate(607,587) rotate(-90)'});
  text(g,650.5,563,'SCI',10.5,'serif','sci-end-label');
  text(g,922.5,629,'HC',10.5,'serif','hc-end-label');
})();
</script>
</body>
</html>
